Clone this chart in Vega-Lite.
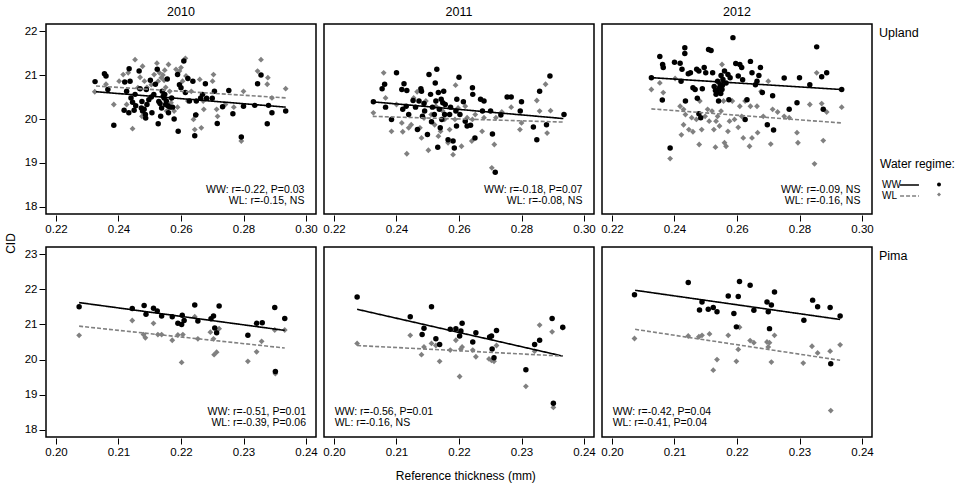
{
"$schema": "https://vega.github.io/schema/vega-lite/v6.json",
"padding": 5,
"title": {"text": "CID", "orient": "left", "anchor": "middle", "fontSize": 12, "fontWeight": "normal", "offset": 6},
"datasets": {
"up": [
{"c":"Upland","yr":"2010","r":"WW","k":"p","x":0.2325,"y":20.85},{"c":"Upland","yr":"2010","r":"WW","k":"p","x":0.2355,"y":21.03},{"c":"Upland","yr":"2010","r":"WW","k":"p","x":0.236,"y":20.98},{"c":"Upland","yr":"2010","r":"WW","k":"p","x":0.2366,"y":20.67},{"c":"Upland","yr":"2010","r":"WW","k":"p","x":0.2385,"y":19.86},{"c":"Upland","yr":"2010","r":"WW","k":"p","x":0.242,"y":20.84},{"c":"Upland","yr":"2010","r":"WW","k":"p","x":0.2418,"y":20.2},{"c":"Upland","yr":"2010","r":"WW","k":"p","x":0.2434,"y":21.14},{"c":"Upland","yr":"2010","r":"WW","k":"p","x":0.2437,"y":20.86},{"c":"Upland","yr":"2010","r":"WW","k":"p","x":0.2433,"y":20.14},{"c":"Upland","yr":"2010","r":"WW","k":"p","x":0.2426,"y":20.63},{"c":"Upland","yr":"2010","r":"WW","k":"p","x":0.244,"y":20.48},{"c":"Upland","yr":"2010","r":"WW","k":"p","x":0.245,"y":20.2},{"c":"Upland","yr":"2010","r":"WW","k":"p","x":0.2453,"y":20.56},{"c":"Upland","yr":"2010","r":"WW","k":"p","x":0.2466,"y":21.09},{"c":"Upland","yr":"2010","r":"WW","k":"p","x":0.2469,"y":20.69},{"c":"Upland","yr":"2010","r":"WW","k":"p","x":0.2475,"y":20.4},{"c":"Upland","yr":"2010","r":"WW","k":"p","x":0.2473,"y":20.25},{"c":"Upland","yr":"2010","r":"WW","k":"p","x":0.2477,"y":20.18},{"c":"Upland","yr":"2010","r":"WW","k":"p","x":0.2486,"y":20.1},{"c":"Upland","yr":"2010","r":"WW","k":"p","x":0.2489,"y":20.67},{"c":"Upland","yr":"2010","r":"WW","k":"p","x":0.2491,"y":20.33},{"c":"Upland","yr":"2010","r":"WW","k":"p","x":0.2497,"y":20.44},{"c":"Upland","yr":"2010","r":"WW","k":"p","x":0.2502,"y":20.88},{"c":"Upland","yr":"2010","r":"WW","k":"p","x":0.2507,"y":20.14},{"c":"Upland","yr":"2010","r":"WW","k":"p","x":0.2513,"y":20.56},{"c":"Upland","yr":"2010","r":"WW","k":"p","x":0.2518,"y":20.79},{"c":"Upland","yr":"2010","r":"WW","k":"p","x":0.2524,"y":21.13},{"c":"Upland","yr":"2010","r":"WW","k":"p","x":0.2527,"y":19.89},{"c":"Upland","yr":"2010","r":"WW","k":"p","x":0.2529,"y":20.4},{"c":"Upland","yr":"2010","r":"WW","k":"p","x":0.2535,"y":20.06},{"c":"Upland","yr":"2010","r":"WW","k":"p","x":0.2538,"y":20.25},{"c":"Upland","yr":"2010","r":"WW","k":"p","x":0.254,"y":20.63},{"c":"Upland","yr":"2010","r":"WW","k":"p","x":0.2546,"y":20.48},{"c":"Upland","yr":"2010","r":"WW","k":"p","x":0.2548,"y":20.56},{"c":"Upland","yr":"2010","r":"WW","k":"p","x":0.2551,"y":20.33},{"c":"Upland","yr":"2010","r":"WW","k":"p","x":0.2553,"y":20.41},{"c":"Upland","yr":"2010","r":"WW","k":"p","x":0.2556,"y":20.91},{"c":"Upland","yr":"2010","r":"WW","k":"p","x":0.256,"y":20.14},{"c":"Upland","yr":"2010","r":"WW","k":"p","x":0.2564,"y":20.27},{"c":"Upland","yr":"2010","r":"WW","k":"p","x":0.257,"y":20.48},{"c":"Upland","yr":"2010","r":"WW","k":"p","x":0.2573,"y":20.27},{"c":"Upland","yr":"2010","r":"WW","k":"p","x":0.2578,"y":20.0},{"c":"Upland","yr":"2010","r":"WW","k":"p","x":0.2589,"y":21.01},{"c":"Upland","yr":"2010","r":"WW","k":"p","x":0.2591,"y":19.72},{"c":"Upland","yr":"2010","r":"WW","k":"p","x":0.2595,"y":20.78},{"c":"Upland","yr":"2010","r":"WW","k":"p","x":0.26,"y":20.71},{"c":"Upland","yr":"2010","r":"WW","k":"p","x":0.2609,"y":21.32},{"c":"Upland","yr":"2010","r":"WW","k":"p","x":0.2614,"y":20.6},{"c":"Upland","yr":"2010","r":"WW","k":"p","x":0.2622,"y":20.92},{"c":"Upland","yr":"2010","r":"WW","k":"p","x":0.2627,"y":20.41},{"c":"Upland","yr":"2010","r":"WW","k":"p","x":0.2638,"y":20.86},{"c":"Upland","yr":"2010","r":"WW","k":"p","x":0.2644,"y":19.62},{"c":"Upland","yr":"2010","r":"WW","k":"p","x":0.2647,"y":20.09},{"c":"Upland","yr":"2010","r":"WW","k":"p","x":0.2649,"y":20.41},{"c":"Upland","yr":"2010","r":"WW","k":"p","x":0.2663,"y":20.48},{"c":"Upland","yr":"2010","r":"WW","k":"p","x":0.2669,"y":20.56},{"c":"Upland","yr":"2010","r":"WW","k":"p","x":0.2678,"y":20.8},{"c":"Upland","yr":"2010","r":"WW","k":"p","x":0.2682,"y":20.47},{"c":"Upland","yr":"2010","r":"WW","k":"p","x":0.27,"y":20.47},{"c":"Upland","yr":"2010","r":"WW","k":"p","x":0.2707,"y":20.63},{"c":"Upland","yr":"2010","r":"WW","k":"p","x":0.2716,"y":19.9},{"c":"Upland","yr":"2010","r":"WW","k":"p","x":0.2733,"y":20.28},{"c":"Upland","yr":"2010","r":"WW","k":"p","x":0.2753,"y":20.65},{"c":"Upland","yr":"2010","r":"WW","k":"p","x":0.2766,"y":20.12},{"c":"Upland","yr":"2010","r":"WW","k":"p","x":0.2793,"y":19.59},{"c":"Upland","yr":"2010","r":"WW","k":"p","x":0.28,"y":20.29},{"c":"Upland","yr":"2010","r":"WW","k":"p","x":0.2836,"y":20.31},{"c":"Upland","yr":"2010","r":"WW","k":"p","x":0.2845,"y":20.8},{"c":"Upland","yr":"2010","r":"WW","k":"p","x":0.2856,"y":21.0},{"c":"Upland","yr":"2010","r":"WW","k":"p","x":0.2876,"y":19.89},{"c":"Upland","yr":"2010","r":"WW","k":"p","x":0.288,"y":20.31},{"c":"Upland","yr":"2010","r":"WW","k":"p","x":0.2891,"y":20.14},{"c":"Upland","yr":"2010","r":"WW","k":"p","x":0.2935,"y":20.18},{"c":"Upland","yr":"2010","r":"WW","k":"p","x":0.2455,"y":20.3},{"c":"Upland","yr":"2010","r":"WW","k":"p","x":0.2482,"y":20.22},{"c":"Upland","yr":"2010","r":"WW","k":"p","x":0.2505,"y":20.5},{"c":"Upland","yr":"2010","r":"WW","k":"p","x":0.2533,"y":20.35},{"c":"Upland","yr":"2010","r":"WW","k":"p","x":0.2543,"y":20.52},{"c":"Upland","yr":"2010","r":"WW","k":"p","x":0.2558,"y":20.3},{"c":"Upland","yr":"2010","r":"WW","k":"p","x":0.2487,"y":20.02},{"c":"Upland","yr":"2010","r":"WW","k":"p","x":0.2445,"y":20.38},
{"c":"Upland","yr":"2010","r":"WL","k":"p","x":0.2324,"y":20.62},{"c":"Upland","yr":"2010","r":"WL","k":"p","x":0.236,"y":20.79},{"c":"Upland","yr":"2010","r":"WL","k":"p","x":0.2385,"y":20.33},{"c":"Upland","yr":"2010","r":"WL","k":"p","x":0.2402,"y":20.86},{"c":"Upland","yr":"2010","r":"WL","k":"p","x":0.2415,"y":21.01},{"c":"Upland","yr":"2010","r":"WL","k":"p","x":0.2426,"y":20.33},{"c":"Upland","yr":"2010","r":"WL","k":"p","x":0.2431,"y":21.05},{"c":"Upland","yr":"2010","r":"WL","k":"p","x":0.2445,"y":19.78},{"c":"Upland","yr":"2010","r":"WL","k":"p","x":0.2453,"y":21.35},{"c":"Upland","yr":"2010","r":"WL","k":"p","x":0.2462,"y":20.71},{"c":"Upland","yr":"2010","r":"WL","k":"p","x":0.2469,"y":20.95},{"c":"Upland","yr":"2010","r":"WL","k":"p","x":0.2477,"y":21.2},{"c":"Upland","yr":"2010","r":"WL","k":"p","x":0.2475,"y":20.06},{"c":"Upland","yr":"2010","r":"WL","k":"p","x":0.2483,"y":20.86},{"c":"Upland","yr":"2010","r":"WL","k":"p","x":0.2491,"y":20.72},{"c":"Upland","yr":"2010","r":"WL","k":"p","x":0.2505,"y":20.78},{"c":"Upland","yr":"2010","r":"WL","k":"p","x":0.2514,"y":21.01},{"c":"Upland","yr":"2010","r":"WL","k":"p","x":0.2523,"y":21.27},{"c":"Upland","yr":"2010","r":"WL","k":"p","x":0.2527,"y":20.86},{"c":"Upland","yr":"2010","r":"WL","k":"p","x":0.2531,"y":21.05},{"c":"Upland","yr":"2010","r":"WL","k":"p","x":0.2537,"y":20.94},{"c":"Upland","yr":"2010","r":"WL","k":"p","x":0.2542,"y":21.0},{"c":"Upland","yr":"2010","r":"WL","k":"p","x":0.2546,"y":20.88},{"c":"Upland","yr":"2010","r":"WL","k":"p","x":0.2548,"y":21.11},{"c":"Upland","yr":"2010","r":"WL","k":"p","x":0.2551,"y":20.72},{"c":"Upland","yr":"2010","r":"WL","k":"p","x":0.2554,"y":20.18},{"c":"Upland","yr":"2010","r":"WL","k":"p","x":0.256,"y":21.24},{"c":"Upland","yr":"2010","r":"WL","k":"p","x":0.2564,"y":20.63},{"c":"Upland","yr":"2010","r":"WL","k":"p","x":0.2568,"y":20.37},{"c":"Upland","yr":"2010","r":"WL","k":"p","x":0.2578,"y":20.18},{"c":"Upland","yr":"2010","r":"WL","k":"p","x":0.2584,"y":21.13},{"c":"Upland","yr":"2010","r":"WL","k":"p","x":0.2589,"y":20.27},{"c":"Upland","yr":"2010","r":"WL","k":"p","x":0.2595,"y":21.09},{"c":"Upland","yr":"2010","r":"WL","k":"p","x":0.26,"y":21.17},{"c":"Upland","yr":"2010","r":"WL","k":"p","x":0.2605,"y":20.86},{"c":"Upland","yr":"2010","r":"WL","k":"p","x":0.2614,"y":21.38},{"c":"Upland","yr":"2010","r":"WL","k":"p","x":0.2616,"y":20.98},{"c":"Upland","yr":"2010","r":"WL","k":"p","x":0.2622,"y":20.41},{"c":"Upland","yr":"2010","r":"WL","k":"p","x":0.2633,"y":20.63},{"c":"Upland","yr":"2010","r":"WL","k":"p","x":0.264,"y":19.99},{"c":"Upland","yr":"2010","r":"WL","k":"p","x":0.2644,"y":19.76},{"c":"Upland","yr":"2010","r":"WL","k":"p","x":0.2649,"y":20.1},{"c":"Upland","yr":"2010","r":"WL","k":"p","x":0.266,"y":20.9},{"c":"Upland","yr":"2010","r":"WL","k":"p","x":0.2665,"y":19.8},{"c":"Upland","yr":"2010","r":"WL","k":"p","x":0.2671,"y":20.41},{"c":"Upland","yr":"2010","r":"WL","k":"p","x":0.2673,"y":20.22},{"c":"Upland","yr":"2010","r":"WL","k":"p","x":0.2704,"y":21.01},{"c":"Upland","yr":"2010","r":"WL","k":"p","x":0.2701,"y":20.86},{"c":"Upland","yr":"2010","r":"WL","k":"p","x":0.2717,"y":20.06},{"c":"Upland","yr":"2010","r":"WL","k":"p","x":0.2714,"y":20.22},{"c":"Upland","yr":"2010","r":"WL","k":"p","x":0.2742,"y":20.33},{"c":"Upland","yr":"2010","r":"WL","k":"p","x":0.2769,"y":20.27},{"c":"Upland","yr":"2010","r":"WL","k":"p","x":0.28,"y":20.63},{"c":"Upland","yr":"2010","r":"WL","k":"p","x":0.2793,"y":19.5},{"c":"Upland","yr":"2010","r":"WL","k":"p","x":0.2845,"y":21.09},{"c":"Upland","yr":"2010","r":"WL","k":"p","x":0.2856,"y":21.35},{"c":"Upland","yr":"2010","r":"WL","k":"p","x":0.2878,"y":20.94},{"c":"Upland","yr":"2010","r":"WL","k":"p","x":0.2876,"y":20.79},{"c":"Upland","yr":"2010","r":"WL","k":"p","x":0.2891,"y":20.48},{"c":"Upland","yr":"2010","r":"WL","k":"p","x":0.2935,"y":20.69},
{"c":"Upland","yr":"2011","r":"WW","k":"p","x":0.2326,"y":20.39},{"c":"Upland","yr":"2011","r":"WW","k":"p","x":0.2354,"y":20.69},{"c":"Upland","yr":"2011","r":"WW","k":"p","x":0.2362,"y":20.79},{"c":"Upland","yr":"2011","r":"WW","k":"p","x":0.2365,"y":20.27},{"c":"Upland","yr":"2011","r":"WW","k":"p","x":0.2384,"y":19.99},{"c":"Upland","yr":"2011","r":"WW","k":"p","x":0.24,"y":21.05},{"c":"Upland","yr":"2011","r":"WW","k":"p","x":0.2417,"y":20.67},{"c":"Upland","yr":"2011","r":"WW","k":"p","x":0.2424,"y":20.8},{"c":"Upland","yr":"2011","r":"WW","k":"p","x":0.2433,"y":20.65},{"c":"Upland","yr":"2011","r":"WW","k":"p","x":0.242,"y":20.22},{"c":"Upland","yr":"2011","r":"WW","k":"p","x":0.2431,"y":20.29},{"c":"Upland","yr":"2011","r":"WW","k":"p","x":0.2439,"y":20.1},{"c":"Upland","yr":"2011","r":"WW","k":"p","x":0.2453,"y":20.42},{"c":"Upland","yr":"2011","r":"WW","k":"p","x":0.2461,"y":20.27},{"c":"Upland","yr":"2011","r":"WW","k":"p","x":0.2467,"y":19.76},{"c":"Upland","yr":"2011","r":"WW","k":"p","x":0.2472,"y":20.41},{"c":"Upland","yr":"2011","r":"WW","k":"p","x":0.2478,"y":20.69},{"c":"Upland","yr":"2011","r":"WW","k":"p","x":0.248,"y":20.63},{"c":"Upland","yr":"2011","r":"WW","k":"p","x":0.2483,"y":20.06},{"c":"Upland","yr":"2011","r":"WW","k":"p","x":0.2488,"y":20.35},{"c":"Upland","yr":"2011","r":"WW","k":"p","x":0.249,"y":20.18},{"c":"Upland","yr":"2011","r":"WW","k":"p","x":0.2499,"y":19.65},{"c":"Upland","yr":"2011","r":"WW","k":"p","x":0.2504,"y":21.01},{"c":"Upland","yr":"2011","r":"WW","k":"p","x":0.2509,"y":20.56},{"c":"Upland","yr":"2011","r":"WW","k":"p","x":0.2512,"y":19.94},{"c":"Upland","yr":"2011","r":"WW","k":"p","x":0.2515,"y":20.27},{"c":"Upland","yr":"2011","r":"WW","k":"p","x":0.2521,"y":20.1},{"c":"Upland","yr":"2011","r":"WW","k":"p","x":0.2524,"y":20.82},{"c":"Upland","yr":"2011","r":"WW","k":"p","x":0.2526,"y":20.41},{"c":"Upland","yr":"2011","r":"WW","k":"p","x":0.2529,"y":21.13},{"c":"Upland","yr":"2011","r":"WW","k":"p","x":0.2532,"y":19.36},{"c":"Upland","yr":"2011","r":"WW","k":"p","x":0.2534,"y":20.6},{"c":"Upland","yr":"2011","r":"WW","k":"p","x":0.2537,"y":20.22},{"c":"Upland","yr":"2011","r":"WW","k":"p","x":0.254,"y":19.8},{"c":"Upland","yr":"2011","r":"WW","k":"p","x":0.2543,"y":20.45},{"c":"Upland","yr":"2011","r":"WW","k":"p","x":0.2545,"y":19.99},{"c":"Upland","yr":"2011","r":"WW","k":"p","x":0.2548,"y":20.37},{"c":"Upland","yr":"2011","r":"WW","k":"p","x":0.2551,"y":20.63},{"c":"Upland","yr":"2011","r":"WW","k":"p","x":0.2554,"y":20.1},{"c":"Upland","yr":"2011","r":"WW","k":"p","x":0.2556,"y":20.33},{"c":"Upland","yr":"2011","r":"WW","k":"p","x":0.2565,"y":19.53},{"c":"Upland","yr":"2011","r":"WW","k":"p","x":0.257,"y":20.1},{"c":"Upland","yr":"2011","r":"WW","k":"p","x":0.2573,"y":20.27},{"c":"Upland","yr":"2011","r":"WW","k":"p","x":0.2581,"y":19.5},{"c":"Upland","yr":"2011","r":"WW","k":"p","x":0.2585,"y":19.34},{"c":"Upland","yr":"2011","r":"WW","k":"p","x":0.259,"y":20.18},{"c":"Upland","yr":"2011","r":"WW","k":"p","x":0.2592,"y":19.84},{"c":"Upland","yr":"2011","r":"WW","k":"p","x":0.2593,"y":20.45},{"c":"Upland","yr":"2011","r":"WW","k":"p","x":0.26,"y":20.95},{"c":"Upland","yr":"2011","r":"WW","k":"p","x":0.2603,"y":20.1},{"c":"Upland","yr":"2011","r":"WW","k":"p","x":0.2614,"y":20.39},{"c":"Upland","yr":"2011","r":"WW","k":"p","x":0.262,"y":19.95},{"c":"Upland","yr":"2011","r":"WW","k":"p","x":0.2626,"y":19.84},{"c":"Upland","yr":"2011","r":"WW","k":"p","x":0.2637,"y":19.86},{"c":"Upland","yr":"2011","r":"WW","k":"p","x":0.2643,"y":20.71},{"c":"Upland","yr":"2011","r":"WW","k":"p","x":0.2644,"y":20.56},{"c":"Upland","yr":"2011","r":"WW","k":"p","x":0.2651,"y":19.57},{"c":"Upland","yr":"2011","r":"WW","k":"p","x":0.2669,"y":20.45},{"c":"Upland","yr":"2011","r":"WW","k":"p","x":0.268,"y":20.41},{"c":"Upland","yr":"2011","r":"WW","k":"p","x":0.2675,"y":20.18},{"c":"Upland","yr":"2011","r":"WW","k":"p","x":0.2701,"y":20.18},{"c":"Upland","yr":"2011","r":"WW","k":"p","x":0.2707,"y":19.66},{"c":"Upland","yr":"2011","r":"WW","k":"p","x":0.2716,"y":18.79},{"c":"Upland","yr":"2011","r":"WW","k":"p","x":0.2734,"y":20.09},{"c":"Upland","yr":"2011","r":"WW","k":"p","x":0.2754,"y":20.5},{"c":"Upland","yr":"2011","r":"WW","k":"p","x":0.2767,"y":20.5},{"c":"Upland","yr":"2011","r":"WW","k":"p","x":0.2796,"y":20.18},{"c":"Upland","yr":"2011","r":"WW","k":"p","x":0.28,"y":20.39},{"c":"Upland","yr":"2011","r":"WW","k":"p","x":0.2838,"y":19.82},{"c":"Upland","yr":"2011","r":"WW","k":"p","x":0.2849,"y":19.53},{"c":"Upland","yr":"2011","r":"WW","k":"p","x":0.2858,"y":20.63},{"c":"Upland","yr":"2011","r":"WW","k":"p","x":0.288,"y":19.87},{"c":"Upland","yr":"2011","r":"WW","k":"p","x":0.2891,"y":20.98},{"c":"Upland","yr":"2011","r":"WW","k":"p","x":0.2936,"y":20.1},
{"c":"Upland","yr":"2011","r":"WL","k":"p","x":0.2326,"y":20.14},{"c":"Upland","yr":"2011","r":"WL","k":"p","x":0.2359,"y":21.05},{"c":"Upland","yr":"2011","r":"WL","k":"p","x":0.2365,"y":20.48},{"c":"Upland","yr":"2011","r":"WL","k":"p","x":0.2384,"y":19.72},{"c":"Upland","yr":"2011","r":"WL","k":"p","x":0.24,"y":20.33},{"c":"Upland","yr":"2011","r":"WL","k":"p","x":0.2417,"y":19.91},{"c":"Upland","yr":"2011","r":"WL","k":"p","x":0.242,"y":19.71},{"c":"Upland","yr":"2011","r":"WL","k":"p","x":0.2433,"y":19.21},{"c":"Upland","yr":"2011","r":"WL","k":"p","x":0.2439,"y":19.8},{"c":"Upland","yr":"2011","r":"WL","k":"p","x":0.2447,"y":19.87},{"c":"Upland","yr":"2011","r":"WL","k":"p","x":0.2455,"y":20.48},{"c":"Upland","yr":"2011","r":"WL","k":"p","x":0.2466,"y":20.62},{"c":"Upland","yr":"2011","r":"WL","k":"p","x":0.2475,"y":19.8},{"c":"Upland","yr":"2011","r":"WL","k":"p","x":0.248,"y":19.57},{"c":"Upland","yr":"2011","r":"WL","k":"p","x":0.2488,"y":20.02},{"c":"Upland","yr":"2011","r":"WL","k":"p","x":0.2494,"y":20.41},{"c":"Upland","yr":"2011","r":"WL","k":"p","x":0.2502,"y":19.29},{"c":"Upland","yr":"2011","r":"WL","k":"p","x":0.2511,"y":20.1},{"c":"Upland","yr":"2011","r":"WL","k":"p","x":0.2522,"y":19.87},{"c":"Upland","yr":"2011","r":"WL","k":"p","x":0.2526,"y":20.29},{"c":"Upland","yr":"2011","r":"WL","k":"p","x":0.2534,"y":19.61},{"c":"Upland","yr":"2011","r":"WL","k":"p","x":0.2541,"y":19.72},{"c":"Upland","yr":"2011","r":"WL","k":"p","x":0.2548,"y":20.18},{"c":"Upland","yr":"2011","r":"WL","k":"p","x":0.2554,"y":19.99},{"c":"Upland","yr":"2011","r":"WL","k":"p","x":0.2565,"y":19.46},{"c":"Upland","yr":"2011","r":"WL","k":"p","x":0.257,"y":19.76},{"c":"Upland","yr":"2011","r":"WL","k":"p","x":0.2581,"y":19.19},{"c":"Upland","yr":"2011","r":"WL","k":"p","x":0.2587,"y":19.99},{"c":"Upland","yr":"2011","r":"WL","k":"p","x":0.2589,"y":20.77},{"c":"Upland","yr":"2011","r":"WL","k":"p","x":0.2597,"y":20.25},{"c":"Upland","yr":"2011","r":"WL","k":"p","x":0.2608,"y":19.38},{"c":"Upland","yr":"2011","r":"WL","k":"p","x":0.262,"y":20.29},{"c":"Upland","yr":"2011","r":"WL","k":"p","x":0.2626,"y":20.03},{"c":"Upland","yr":"2011","r":"WL","k":"p","x":0.2641,"y":19.5},{"c":"Upland","yr":"2011","r":"WL","k":"p","x":0.2643,"y":19.99},{"c":"Upland","yr":"2011","r":"WL","k":"p","x":0.2652,"y":20.1},{"c":"Upland","yr":"2011","r":"WL","k":"p","x":0.2674,"y":19.72},{"c":"Upland","yr":"2011","r":"WL","k":"p","x":0.268,"y":20.03},{"c":"Upland","yr":"2011","r":"WL","k":"p","x":0.2705,"y":18.89},{"c":"Upland","yr":"2011","r":"WL","k":"p","x":0.2713,"y":19.42},{"c":"Upland","yr":"2011","r":"WL","k":"p","x":0.2718,"y":20.03},{"c":"Upland","yr":"2011","r":"WL","k":"p","x":0.2737,"y":20.16},{"c":"Upland","yr":"2011","r":"WL","k":"p","x":0.2767,"y":20.27},{"c":"Upland","yr":"2011","r":"WL","k":"p","x":0.2795,"y":19.76},{"c":"Upland","yr":"2011","r":"WL","k":"p","x":0.28,"y":19.91},{"c":"Upland","yr":"2011","r":"WL","k":"p","x":0.2849,"y":20.42},{"c":"Upland","yr":"2011","r":"WL","k":"p","x":0.2858,"y":20.18},{"c":"Upland","yr":"2011","r":"WL","k":"p","x":0.2877,"y":20.79},{"c":"Upland","yr":"2011","r":"WL","k":"p","x":0.2882,"y":19.68},{"c":"Upland","yr":"2011","r":"WL","k":"p","x":0.2893,"y":20.19},
{"c":"Upland","yr":"2012","r":"WW","k":"p","x":0.2326,"y":20.94},{"c":"Upland","yr":"2012","r":"WW","k":"p","x":0.2353,"y":21.42},{"c":"Upland","yr":"2012","r":"WW","k":"p","x":0.2362,"y":21.24},{"c":"Upland","yr":"2012","r":"WW","k":"p","x":0.2364,"y":21.17},{"c":"Upland","yr":"2012","r":"WW","k":"p","x":0.2361,"y":20.43},{"c":"Upland","yr":"2012","r":"WW","k":"p","x":0.2386,"y":19.34},{"c":"Upland","yr":"2012","r":"WW","k":"p","x":0.24,"y":21.29},{"c":"Upland","yr":"2012","r":"WW","k":"p","x":0.2418,"y":21.27},{"c":"Upland","yr":"2012","r":"WW","k":"p","x":0.2424,"y":21.13},{"c":"Upland","yr":"2012","r":"WW","k":"p","x":0.2421,"y":20.86},{"c":"Upland","yr":"2012","r":"WW","k":"p","x":0.2433,"y":21.62},{"c":"Upland","yr":"2012","r":"WW","k":"p","x":0.2433,"y":21.49},{"c":"Upland","yr":"2012","r":"WW","k":"p","x":0.2435,"y":20.41},{"c":"Upland","yr":"2012","r":"WW","k":"p","x":0.2444,"y":21.03},{"c":"Upland","yr":"2012","r":"WW","k":"p","x":0.2451,"y":21.05},{"c":"Upland","yr":"2012","r":"WW","k":"p","x":0.2459,"y":20.71},{"c":"Upland","yr":"2012","r":"WW","k":"p","x":0.2466,"y":20.67},{"c":"Upland","yr":"2012","r":"WW","k":"p","x":0.2471,"y":21.13},{"c":"Upland","yr":"2012","r":"WW","k":"p","x":0.2473,"y":20.47},{"c":"Upland","yr":"2012","r":"WW","k":"p","x":0.2478,"y":21.09},{"c":"Upland","yr":"2012","r":"WW","k":"p","x":0.2478,"y":20.12},{"c":"Upland","yr":"2012","r":"WW","k":"p","x":0.2484,"y":20.03},{"c":"Upland","yr":"2012","r":"WW","k":"p","x":0.2489,"y":20.69},{"c":"Upland","yr":"2012","r":"WW","k":"p","x":0.2495,"y":21.17},{"c":"Upland","yr":"2012","r":"WW","k":"p","x":0.25,"y":21.05},{"c":"Upland","yr":"2012","r":"WW","k":"p","x":0.2509,"y":21.58},{"c":"Upland","yr":"2012","r":"WW","k":"p","x":0.2517,"y":21.56},{"c":"Upland","yr":"2012","r":"WW","k":"p","x":0.2522,"y":21.05},{"c":"Upland","yr":"2012","r":"WW","k":"p","x":0.2527,"y":20.74},{"c":"Upland","yr":"2012","r":"WW","k":"p","x":0.2531,"y":20.65},{"c":"Upland","yr":"2012","r":"WW","k":"p","x":0.2533,"y":20.56},{"c":"Upland","yr":"2012","r":"WW","k":"p","x":0.2538,"y":20.86},{"c":"Upland","yr":"2012","r":"WW","k":"p","x":0.2541,"y":20.41},{"c":"Upland","yr":"2012","r":"WW","k":"p","x":0.2546,"y":20.78},{"c":"Upland","yr":"2012","r":"WW","k":"p","x":0.2549,"y":20.99},{"c":"Upland","yr":"2012","r":"WW","k":"p","x":0.2552,"y":20.67},{"c":"Upland","yr":"2012","r":"WW","k":"p","x":0.2555,"y":20.9},{"c":"Upland","yr":"2012","r":"WW","k":"p","x":0.256,"y":21.09},{"c":"Upland","yr":"2012","r":"WW","k":"p","x":0.2565,"y":20.82},{"c":"Upland","yr":"2012","r":"WW","k":"p","x":0.2571,"y":21.01},{"c":"Upland","yr":"2012","r":"WW","k":"p","x":0.2574,"y":20.44},{"c":"Upland","yr":"2012","r":"WW","k":"p","x":0.2578,"y":20.94},{"c":"Upland","yr":"2012","r":"WW","k":"p","x":0.2587,"y":21.85},{"c":"Upland","yr":"2012","r":"WW","k":"p","x":0.2596,"y":21.26},{"c":"Upland","yr":"2012","r":"WW","k":"p","x":0.2604,"y":20.98},{"c":"Upland","yr":"2012","r":"WW","k":"p","x":0.2609,"y":21.24},{"c":"Upland","yr":"2012","r":"WW","k":"p","x":0.2618,"y":20.89},{"c":"Upland","yr":"2012","r":"WW","k":"p","x":0.2615,"y":21.17},{"c":"Upland","yr":"2012","r":"WW","k":"p","x":0.2626,"y":19.99},{"c":"Upland","yr":"2012","r":"WW","k":"p","x":0.2632,"y":20.44},{"c":"Upland","yr":"2012","r":"WW","k":"p","x":0.2643,"y":21.31},{"c":"Upland","yr":"2012","r":"WW","k":"p","x":0.2648,"y":21.05},{"c":"Upland","yr":"2012","r":"WW","k":"p","x":0.2659,"y":20.78},{"c":"Upland","yr":"2012","r":"WW","k":"p","x":0.2664,"y":20.86},{"c":"Upland","yr":"2012","r":"WW","k":"p","x":0.267,"y":20.99},{"c":"Upland","yr":"2012","r":"WW","k":"p","x":0.2675,"y":21.17},{"c":"Upland","yr":"2012","r":"WW","k":"p","x":0.2681,"y":20.6},{"c":"Upland","yr":"2012","r":"WW","k":"p","x":0.2697,"y":19.87},{"c":"Upland","yr":"2012","r":"WW","k":"p","x":0.2714,"y":20.53},{"c":"Upland","yr":"2012","r":"WW","k":"p","x":0.2717,"y":19.75},{"c":"Upland","yr":"2012","r":"WW","k":"p","x":0.2751,"y":20.93},{"c":"Upland","yr":"2012","r":"WW","k":"p","x":0.2767,"y":20.22},{"c":"Upland","yr":"2012","r":"WW","k":"p","x":0.2792,"y":20.37},{"c":"Upland","yr":"2012","r":"WW","k":"p","x":0.28,"y":20.94},{"c":"Upland","yr":"2012","r":"WW","k":"p","x":0.2833,"y":20.78},{"c":"Upland","yr":"2012","r":"WW","k":"p","x":0.2855,"y":21.64},{"c":"Upland","yr":"2012","r":"WW","k":"p","x":0.2871,"y":20.96},{"c":"Upland","yr":"2012","r":"WW","k":"p","x":0.2876,"y":20.22},{"c":"Upland","yr":"2012","r":"WW","k":"p","x":0.2887,"y":21.05},{"c":"Upland","yr":"2012","r":"WW","k":"p","x":0.2935,"y":20.67},{"c":"Upland","yr":"2012","r":"WW","k":"p","x":0.2536,"y":20.62},{"c":"Upland","yr":"2012","r":"WW","k":"p","x":0.2543,"y":20.7},{"c":"Upland","yr":"2012","r":"WW","k":"p","x":0.2548,"y":20.58},{"c":"Upland","yr":"2012","r":"WW","k":"p","x":0.2553,"y":20.76},
{"c":"Upland","yr":"2012","r":"WL","k":"p","x":0.2326,"y":20.67},{"c":"Upland","yr":"2012","r":"WL","k":"p","x":0.2353,"y":20.82},{"c":"Upland","yr":"2012","r":"WL","k":"p","x":0.2364,"y":20.6},{"c":"Upland","yr":"2012","r":"WL","k":"p","x":0.2386,"y":19.1},{"c":"Upland","yr":"2012","r":"WL","k":"p","x":0.2402,"y":20.92},{"c":"Upland","yr":"2012","r":"WL","k":"p","x":0.2418,"y":20.29},{"c":"Upland","yr":"2012","r":"WL","k":"p","x":0.2422,"y":19.64},{"c":"Upland","yr":"2012","r":"WL","k":"p","x":0.2429,"y":19.87},{"c":"Upland","yr":"2012","r":"WL","k":"p","x":0.2429,"y":20.22},{"c":"Upland","yr":"2012","r":"WL","k":"p","x":0.2435,"y":20.1},{"c":"Upland","yr":"2012","r":"WL","k":"p","x":0.2446,"y":19.76},{"c":"Upland","yr":"2012","r":"WL","k":"p","x":0.2455,"y":20.03},{"c":"Upland","yr":"2012","r":"WL","k":"p","x":0.2459,"y":19.71},{"c":"Upland","yr":"2012","r":"WL","k":"p","x":0.247,"y":19.99},{"c":"Upland","yr":"2012","r":"WL","k":"p","x":0.2479,"y":19.42},{"c":"Upland","yr":"2012","r":"WL","k":"p","x":0.2481,"y":20.41},{"c":"Upland","yr":"2012","r":"WL","k":"p","x":0.2487,"y":19.76},{"c":"Upland","yr":"2012","r":"WL","k":"p","x":0.2498,"y":20.06},{"c":"Upland","yr":"2012","r":"WL","k":"p","x":0.2506,"y":20.22},{"c":"Upland","yr":"2012","r":"WL","k":"p","x":0.2511,"y":19.95},{"c":"Upland","yr":"2012","r":"WL","k":"p","x":0.252,"y":20.18},{"c":"Upland","yr":"2012","r":"WL","k":"p","x":0.2526,"y":19.76},{"c":"Upland","yr":"2012","r":"WL","k":"p","x":0.2531,"y":19.36},{"c":"Upland","yr":"2012","r":"WL","k":"p","x":0.2533,"y":19.95},{"c":"Upland","yr":"2012","r":"WL","k":"p","x":0.2538,"y":20.06},{"c":"Upland","yr":"2012","r":"WL","k":"p","x":0.2544,"y":19.84},{"c":"Upland","yr":"2012","r":"WL","k":"p","x":0.2549,"y":20.18},{"c":"Upland","yr":"2012","r":"WL","k":"p","x":0.2552,"y":21.24},{"c":"Upland","yr":"2012","r":"WL","k":"p","x":0.2557,"y":20.41},{"c":"Upland","yr":"2012","r":"WL","k":"p","x":0.256,"y":19.46},{"c":"Upland","yr":"2012","r":"WL","k":"p","x":0.2565,"y":19.38},{"c":"Upland","yr":"2012","r":"WL","k":"p","x":0.2571,"y":19.72},{"c":"Upland","yr":"2012","r":"WL","k":"p","x":0.2576,"y":19.95},{"c":"Upland","yr":"2012","r":"WL","k":"p","x":0.2585,"y":20.41},{"c":"Upland","yr":"2012","r":"WL","k":"p","x":0.2592,"y":19.99},{"c":"Upland","yr":"2012","r":"WL","k":"p","x":0.2604,"y":19.81},{"c":"Upland","yr":"2012","r":"WL","k":"p","x":0.2609,"y":20.29},{"c":"Upland","yr":"2012","r":"WL","k":"p","x":0.2615,"y":20.06},{"c":"Upland","yr":"2012","r":"WL","k":"p","x":0.262,"y":19.57},{"c":"Upland","yr":"2012","r":"WL","k":"p","x":0.2626,"y":20.41},{"c":"Upland","yr":"2012","r":"WL","k":"p","x":0.264,"y":19.38},{"c":"Upland","yr":"2012","r":"WL","k":"p","x":0.2643,"y":20.29},{"c":"Upland","yr":"2012","r":"WL","k":"p","x":0.2648,"y":19.57},{"c":"Upland","yr":"2012","r":"WL","k":"p","x":0.2664,"y":20.29},{"c":"Upland","yr":"2012","r":"WL","k":"p","x":0.2666,"y":19.69},{"c":"Upland","yr":"2012","r":"WL","k":"p","x":0.2677,"y":20.63},{"c":"Upland","yr":"2012","r":"WL","k":"p","x":0.2684,"y":20.06},{"c":"Upland","yr":"2012","r":"WL","k":"p","x":0.27,"y":20.86},{"c":"Upland","yr":"2012","r":"WL","k":"p","x":0.2708,"y":19.43},{"c":"Upland","yr":"2012","r":"WL","k":"p","x":0.2714,"y":20.22},{"c":"Upland","yr":"2012","r":"WL","k":"p","x":0.273,"y":20.16},{"c":"Upland","yr":"2012","r":"WL","k":"p","x":0.2751,"y":20.06},{"c":"Upland","yr":"2012","r":"WL","k":"p","x":0.2767,"y":20.03},{"c":"Upland","yr":"2012","r":"WL","k":"p","x":0.2792,"y":19.69},{"c":"Upland","yr":"2012","r":"WL","k":"p","x":0.2795,"y":19.46},{"c":"Upland","yr":"2012","r":"WL","k":"p","x":0.2833,"y":20.33},{"c":"Upland","yr":"2012","r":"WL","k":"p","x":0.2848,"y":18.98},{"c":"Upland","yr":"2012","r":"WL","k":"p","x":0.2855,"y":21.05},{"c":"Upland","yr":"2012","r":"WL","k":"p","x":0.2871,"y":20.35},{"c":"Upland","yr":"2012","r":"WL","k":"p","x":0.2876,"y":19.51},{"c":"Upland","yr":"2012","r":"WL","k":"p","x":0.2887,"y":20.16},{"c":"Upland","yr":"2012","r":"WL","k":"p","x":0.2935,"y":20.27},
{"c":"Upland","yr":"2010","r":"WW","k":"f","x":0.2328,"y":20.62},{"c":"Upland","yr":"2010","r":"WW","k":"f","x":0.2935,"y":20.27},{"c":"Upland","yr":"2010","r":"WL","k":"f","x":0.2328,"y":20.75},{"c":"Upland","yr":"2010","r":"WL","k":"f","x":0.2935,"y":20.48},
{"c":"Upland","yr":"2011","r":"WW","k":"f","x":0.2324,"y":20.39},{"c":"Upland","yr":"2011","r":"WW","k":"f","x":0.2934,"y":20.01},{"c":"Upland","yr":"2011","r":"WL","k":"f","x":0.2324,"y":20.06},{"c":"Upland","yr":"2011","r":"WL","k":"f","x":0.2934,"y":19.93},
{"c":"Upland","yr":"2012","r":"WW","k":"f","x":0.2326,"y":20.94},{"c":"Upland","yr":"2012","r":"WW","k":"f","x":0.2935,"y":20.67},{"c":"Upland","yr":"2012","r":"WL","k":"f","x":0.2326,"y":20.23},{"c":"Upland","yr":"2012","r":"WL","k":"f","x":0.2935,"y":19.91},
{"c":"Upland","yr":"2010","r":"WW","k":"n","t":"WW: r=-0.22, P=0.03"},{"c":"Upland","yr":"2010","r":"WL","k":"n","t":"WL: r=-0.15, NS"},
{"c":"Upland","yr":"2011","r":"WW","k":"n","t":"WW: r=-0.18, P=0.07"},{"c":"Upland","yr":"2011","r":"WL","k":"n","t":"WL: r=-0.08, NS"},
{"c":"Upland","yr":"2012","r":"WW","k":"n","t":"WW: r=-0.09, NS"},{"c":"Upland","yr":"2012","r":"WL","k":"n","t":"WL: r=-0.16, NS"}
],
"pi": [
{"c":"Pima","yr":"2010","r":"WW","k":"p","x":0.2037,"y":21.5},{"c":"Pima","yr":"2010","r":"WW","k":"p","x":0.2122,"y":21.45},{"c":"Pima","yr":"2010","r":"WW","k":"p","x":0.2141,"y":21.54},{"c":"Pima","yr":"2010","r":"WW","k":"p","x":0.2144,"y":21.29},{"c":"Pima","yr":"2010","r":"WW","k":"p","x":0.2156,"y":21.46},{"c":"Pima","yr":"2010","r":"WW","k":"p","x":0.2162,"y":21.38},{"c":"Pima","yr":"2010","r":"WW","k":"p","x":0.2169,"y":21.24},{"c":"Pima","yr":"2010","r":"WW","k":"p","x":0.2186,"y":21.22},{"c":"Pima","yr":"2010","r":"WW","k":"p","x":0.2195,"y":21.03},{"c":"Pima","yr":"2010","r":"WW","k":"p","x":0.2201,"y":21.0},{"c":"Pima","yr":"2010","r":"WW","k":"p","x":0.2202,"y":21.26},{"c":"Pima","yr":"2010","r":"WW","k":"p","x":0.2205,"y":21.11},{"c":"Pima","yr":"2010","r":"WW","k":"p","x":0.2222,"y":21.55},{"c":"Pima","yr":"2010","r":"WW","k":"p","x":0.2227,"y":21.1},{"c":"Pima","yr":"2010","r":"WW","k":"p","x":0.2248,"y":21.16},{"c":"Pima","yr":"2010","r":"WW","k":"p","x":0.2252,"y":21.24},{"c":"Pima","yr":"2010","r":"WW","k":"p","x":0.2254,"y":20.9},{"c":"Pima","yr":"2010","r":"WW","k":"p","x":0.2257,"y":20.76},{"c":"Pima","yr":"2010","r":"WW","k":"p","x":0.2261,"y":21.52},{"c":"Pima","yr":"2010","r":"WW","k":"p","x":0.2307,"y":20.69},{"c":"Pima","yr":"2010","r":"WW","k":"p","x":0.2321,"y":21.03},{"c":"Pima","yr":"2010","r":"WW","k":"p","x":0.233,"y":21.05},{"c":"Pima","yr":"2010","r":"WW","k":"p","x":0.235,"y":21.48},{"c":"Pima","yr":"2010","r":"WW","k":"p","x":0.2351,"y":19.66},{"c":"Pima","yr":"2010","r":"WW","k":"p","x":0.2366,"y":21.17},
{"c":"Pima","yr":"2010","r":"WL","k":"p","x":0.2037,"y":20.69},{"c":"Pima","yr":"2010","r":"WL","k":"p","x":0.2122,"y":21.11},{"c":"Pima","yr":"2010","r":"WL","k":"p","x":0.214,"y":20.71},{"c":"Pima","yr":"2010","r":"WL","k":"p","x":0.2143,"y":20.62},{"c":"Pima","yr":"2010","r":"WL","k":"p","x":0.2156,"y":21.03},{"c":"Pima","yr":"2010","r":"WL","k":"p","x":0.2163,"y":20.71},{"c":"Pima","yr":"2010","r":"WL","k":"p","x":0.2169,"y":20.71},{"c":"Pima","yr":"2010","r":"WL","k":"p","x":0.2186,"y":20.55},{"c":"Pima","yr":"2010","r":"WL","k":"p","x":0.2195,"y":20.7},{"c":"Pima","yr":"2010","r":"WL","k":"p","x":0.2201,"y":19.92},{"c":"Pima","yr":"2010","r":"WL","k":"p","x":0.2203,"y":20.71},{"c":"Pima","yr":"2010","r":"WL","k":"p","x":0.2222,"y":21.22},{"c":"Pima","yr":"2010","r":"WL","k":"p","x":0.2227,"y":20.59},{"c":"Pima","yr":"2010","r":"WL","k":"p","x":0.2247,"y":20.78},{"c":"Pima","yr":"2010","r":"WL","k":"p","x":0.2252,"y":20.59},{"c":"Pima","yr":"2010","r":"WL","k":"p","x":0.2253,"y":20.14},{"c":"Pima","yr":"2010","r":"WL","k":"p","x":0.2257,"y":20.21},{"c":"Pima","yr":"2010","r":"WL","k":"p","x":0.2261,"y":20.88},{"c":"Pima","yr":"2010","r":"WL","k":"p","x":0.2307,"y":19.95},{"c":"Pima","yr":"2010","r":"WL","k":"p","x":0.2321,"y":20.22},{"c":"Pima","yr":"2010","r":"WL","k":"p","x":0.2329,"y":20.52},{"c":"Pima","yr":"2010","r":"WL","k":"p","x":0.235,"y":20.84},{"c":"Pima","yr":"2010","r":"WL","k":"p","x":0.2351,"y":19.6},{"c":"Pima","yr":"2010","r":"WL","k":"p","x":0.2366,"y":20.84},
{"c":"Pima","yr":"2011","r":"WW","k":"p","x":0.2037,"y":21.78},{"c":"Pima","yr":"2011","r":"WW","k":"p","x":0.2122,"y":21.22},{"c":"Pima","yr":"2011","r":"WW","k":"p","x":0.2141,"y":20.71},{"c":"Pima","yr":"2011","r":"WW","k":"p","x":0.2144,"y":20.89},{"c":"Pima","yr":"2011","r":"WW","k":"p","x":0.2156,"y":21.5},{"c":"Pima","yr":"2011","r":"WW","k":"p","x":0.2163,"y":20.59},{"c":"Pima","yr":"2011","r":"WW","k":"p","x":0.2169,"y":20.43},{"c":"Pima","yr":"2011","r":"WW","k":"p","x":0.2186,"y":20.86},{"c":"Pima","yr":"2011","r":"WW","k":"p","x":0.2195,"y":20.88},{"c":"Pima","yr":"2011","r":"WW","k":"p","x":0.2201,"y":20.67},{"c":"Pima","yr":"2011","r":"WW","k":"p","x":0.2203,"y":20.81},{"c":"Pima","yr":"2011","r":"WW","k":"p","x":0.2205,"y":21.03},{"c":"Pima","yr":"2011","r":"WW","k":"p","x":0.2222,"y":20.5},{"c":"Pima","yr":"2011","r":"WW","k":"p","x":0.2227,"y":20.76},{"c":"Pima","yr":"2011","r":"WW","k":"p","x":0.2249,"y":20.64},{"c":"Pima","yr":"2011","r":"WW","k":"p","x":0.2252,"y":20.67},{"c":"Pima","yr":"2011","r":"WW","k":"p","x":0.2253,"y":20.3},{"c":"Pima","yr":"2011","r":"WW","k":"p","x":0.2256,"y":20.05},{"c":"Pima","yr":"2011","r":"WW","k":"p","x":0.226,"y":20.83},{"c":"Pima","yr":"2011","r":"WW","k":"p","x":0.2307,"y":19.71},{"c":"Pima","yr":"2011","r":"WW","k":"p","x":0.2321,"y":20.43},{"c":"Pima","yr":"2011","r":"WW","k":"p","x":0.2329,"y":20.55},{"c":"Pima","yr":"2011","r":"WW","k":"p","x":0.2349,"y":21.17},{"c":"Pima","yr":"2011","r":"WW","k":"p","x":0.2351,"y":18.76},{"c":"Pima","yr":"2011","r":"WW","k":"p","x":0.2366,"y":20.92},
{"c":"Pima","yr":"2011","r":"WL","k":"p","x":0.2037,"y":20.46},{"c":"Pima","yr":"2011","r":"WL","k":"p","x":0.2122,"y":20.69},{"c":"Pima","yr":"2011","r":"WL","k":"p","x":0.214,"y":20.14},{"c":"Pima","yr":"2011","r":"WL","k":"p","x":0.2144,"y":20.36},{"c":"Pima","yr":"2011","r":"WL","k":"p","x":0.2156,"y":20.46},{"c":"Pima","yr":"2011","r":"WL","k":"p","x":0.2163,"y":20.4},{"c":"Pima","yr":"2011","r":"WL","k":"p","x":0.2169,"y":19.95},{"c":"Pima","yr":"2011","r":"WL","k":"p","x":0.2186,"y":20.27},{"c":"Pima","yr":"2011","r":"WL","k":"p","x":0.2195,"y":20.55},{"c":"Pima","yr":"2011","r":"WL","k":"p","x":0.2201,"y":19.52},{"c":"Pima","yr":"2011","r":"WL","k":"p","x":0.2203,"y":20.3},{"c":"Pima","yr":"2011","r":"WL","k":"p","x":0.2205,"y":20.36},{"c":"Pima","yr":"2011","r":"WL","k":"p","x":0.2222,"y":20.27},{"c":"Pima","yr":"2011","r":"WL","k":"p","x":0.2227,"y":20.08},{"c":"Pima","yr":"2011","r":"WL","k":"p","x":0.2248,"y":20.02},{"c":"Pima","yr":"2011","r":"WL","k":"p","x":0.2252,"y":19.98},{"c":"Pima","yr":"2011","r":"WL","k":"p","x":0.2256,"y":19.95},{"c":"Pima","yr":"2011","r":"WL","k":"p","x":0.226,"y":20.4},{"c":"Pima","yr":"2011","r":"WL","k":"p","x":0.2307,"y":19.24},{"c":"Pima","yr":"2011","r":"WL","k":"p","x":0.2321,"y":20.24},{"c":"Pima","yr":"2011","r":"WL","k":"p","x":0.2329,"y":20.98},{"c":"Pima","yr":"2011","r":"WL","k":"p","x":0.2349,"y":20.79},{"c":"Pima","yr":"2011","r":"WL","k":"p","x":0.2351,"y":18.64},{"c":"Pima","yr":"2011","r":"WL","k":"p","x":0.2366,"y":20.9},
{"c":"Pima","yr":"2012","r":"WW","k":"p","x":0.2036,"y":21.84},{"c":"Pima","yr":"2012","r":"WW","k":"p","x":0.2122,"y":22.19},{"c":"Pima","yr":"2012","r":"WW","k":"p","x":0.214,"y":21.41},{"c":"Pima","yr":"2012","r":"WW","k":"p","x":0.2144,"y":21.64},{"c":"Pima","yr":"2012","r":"WW","k":"p","x":0.2154,"y":21.43},{"c":"Pima","yr":"2012","r":"WW","k":"p","x":0.2162,"y":21.48},{"c":"Pima","yr":"2012","r":"WW","k":"p","x":0.2168,"y":21.36},{"c":"Pima","yr":"2012","r":"WW","k":"p","x":0.2186,"y":21.81},{"c":"Pima","yr":"2012","r":"WW","k":"p","x":0.2195,"y":21.31},{"c":"Pima","yr":"2012","r":"WW","k":"p","x":0.2199,"y":20.93},{"c":"Pima","yr":"2012","r":"WW","k":"p","x":0.2202,"y":21.79},{"c":"Pima","yr":"2012","r":"WW","k":"p","x":0.2204,"y":22.22},{"c":"Pima","yr":"2012","r":"WW","k":"p","x":0.2221,"y":22.11},{"c":"Pima","yr":"2012","r":"WW","k":"p","x":0.2227,"y":21.4},{"c":"Pima","yr":"2012","r":"WW","k":"p","x":0.2248,"y":21.64},{"c":"Pima","yr":"2012","r":"WW","k":"p","x":0.225,"y":21.36},{"c":"Pima","yr":"2012","r":"WW","k":"p","x":0.2252,"y":20.88},{"c":"Pima","yr":"2012","r":"WW","k":"p","x":0.2255,"y":21.55},{"c":"Pima","yr":"2012","r":"WW","k":"p","x":0.226,"y":21.92},{"c":"Pima","yr":"2012","r":"WW","k":"p","x":0.2307,"y":21.12},{"c":"Pima","yr":"2012","r":"WW","k":"p","x":0.2321,"y":21.69},{"c":"Pima","yr":"2012","r":"WW","k":"p","x":0.2329,"y":21.5},{"c":"Pima","yr":"2012","r":"WW","k":"p","x":0.2349,"y":21.48},{"c":"Pima","yr":"2012","r":"WW","k":"p","x":0.235,"y":19.88},{"c":"Pima","yr":"2012","r":"WW","k":"p","x":0.2365,"y":21.24},
{"c":"Pima","yr":"2012","r":"WL","k":"p","x":0.2036,"y":20.6},{"c":"Pima","yr":"2012","r":"WL","k":"p","x":0.2122,"y":20.67},{"c":"Pima","yr":"2012","r":"WL","k":"p","x":0.2139,"y":20.65},{"c":"Pima","yr":"2012","r":"WL","k":"p","x":0.2144,"y":20.69},{"c":"Pima","yr":"2012","r":"WL","k":"p","x":0.2156,"y":20.73},{"c":"Pima","yr":"2012","r":"WL","k":"p","x":0.2162,"y":19.7},{"c":"Pima","yr":"2012","r":"WL","k":"p","x":0.2168,"y":20.0},{"c":"Pima","yr":"2012","r":"WL","k":"p","x":0.2186,"y":20.69},{"c":"Pima","yr":"2012","r":"WL","k":"p","x":0.2199,"y":19.95},{"c":"Pima","yr":"2012","r":"WL","k":"p","x":0.2202,"y":20.29},{"c":"Pima","yr":"2012","r":"WL","k":"p","x":0.2204,"y":20.92},{"c":"Pima","yr":"2012","r":"WL","k":"p","x":0.2221,"y":20.54},{"c":"Pima","yr":"2012","r":"WL","k":"p","x":0.2227,"y":20.48},{"c":"Pima","yr":"2012","r":"WL","k":"p","x":0.2248,"y":20.5},{"c":"Pima","yr":"2012","r":"WL","k":"p","x":0.225,"y":20.36},{"c":"Pima","yr":"2012","r":"WL","k":"p","x":0.2252,"y":20.48},{"c":"Pima","yr":"2012","r":"WL","k":"p","x":0.2255,"y":19.93},{"c":"Pima","yr":"2012","r":"WL","k":"p","x":0.226,"y":20.69},{"c":"Pima","yr":"2012","r":"WL","k":"p","x":0.2306,"y":19.9},{"c":"Pima","yr":"2012","r":"WL","k":"p","x":0.232,"y":20.38},{"c":"Pima","yr":"2012","r":"WL","k":"p","x":0.2329,"y":20.19},{"c":"Pima","yr":"2012","r":"WL","k":"p","x":0.2349,"y":20.24},{"c":"Pima","yr":"2012","r":"WL","k":"p","x":0.235,"y":18.55},{"c":"Pima","yr":"2012","r":"WL","k":"p","x":0.2365,"y":20.42},
{"c":"Pima","yr":"2010","r":"WW","k":"f","x":0.2037,"y":21.62},{"c":"Pima","yr":"2010","r":"WW","k":"f","x":0.2366,"y":20.83},{"c":"Pima","yr":"2010","r":"WL","k":"f","x":0.2037,"y":20.95},{"c":"Pima","yr":"2010","r":"WL","k":"f","x":0.2366,"y":20.33},
{"c":"Pima","yr":"2011","r":"WW","k":"f","x":0.2037,"y":21.43},{"c":"Pima","yr":"2011","r":"WW","k":"f","x":0.2366,"y":20.1},{"c":"Pima","yr":"2011","r":"WL","k":"f","x":0.2037,"y":20.4},{"c":"Pima","yr":"2011","r":"WL","k":"f","x":0.2366,"y":20.1},
{"c":"Pima","yr":"2012","r":"WW","k":"f","x":0.2037,"y":21.97},{"c":"Pima","yr":"2012","r":"WW","k":"f","x":0.2365,"y":21.14},{"c":"Pima","yr":"2012","r":"WL","k":"f","x":0.2037,"y":20.86},{"c":"Pima","yr":"2012","r":"WL","k":"f","x":0.2365,"y":19.98},
{"c":"Pima","yr":"2010","r":"WW","k":"n","t":"WW: r=-0.51, P=0.01"},{"c":"Pima","yr":"2010","r":"WL","k":"n","t":"WL: r=-0.39, P=0.06"},
{"c":"Pima","yr":"2011","r":"WW","k":"n","t":"WW: r=-0.56, P=0.01"},{"c":"Pima","yr":"2011","r":"WL","k":"n","t":"WL: r=-0.16, NS"},
{"c":"Pima","yr":"2012","r":"WW","k":"n","t":"WW: r=-0.42, P=0.04"},{"c":"Pima","yr":"2012","r":"WL","k":"n","t":"WL: r=-0.41, P=0.04"}
]
},
"spacing": 11,
"resolve": {"scale": {"color": "independent", "strokeDash": "independent", "fill": "independent", "shape": "independent"}, "legend": {"color": "independent", "strokeDash": "independent", "fill": "independent", "shape": "independent"}},
"vconcat": [
{
"data": {"name": "up"},
"facet": {
 "column": {"field": "yr", "type": "ordinal", "header": {"title": null, "labelFontSize": 12.5, "labelPadding": 5}},
 "row": {"field": "c", "type": "nominal", "header": {"title": null, "labelAngle": 0, "labelOrient": "right", "labelAlign": "right", "labelAnchor": "start", "labelBaseline": "line-top", "labelLineHeight": 18, "labelFontSize": 12.5, "labelPadding": 6}}
},
"spacing": {"column": 6},
"spec": {
 "width": 270, "height": 190,
 "layer": [
  {"transform": [{"filter": "datum.k==='p' && datum.r==='WL'"}],
   "mark": {"type": "point", "filled": true, "size": 34, "opacity": 1},
   "encoding": {
    "x": {"field": "x", "type": "quantitative", "scale": {"domain": [0.2168, 0.3032], "nice": false, "zero": false}, "axis": {"values": [0.22, 0.24, 0.26, 0.28, 0.30], "format": ".2f", "title": null, "labelOverlap": false}},
    "y": {"field": "y", "type": "quantitative", "scale": {"domain": [17.84, 22.16], "nice": false, "zero": false}, "axis": {"values": [18, 19, 20, 21, 22], "tickCount": 5, "title": null, "labelOverlap": false}},
    "fill": {"field": "r", "type": "nominal", "scale": {"domain": ["WW", "WL", "z"], "range": ["#000000", "#808080", "#000000"]},
      "legend": {"title": null, "orient": "none", "legendX": 888, "legendY": 155.5, "symbolSize": 16, "labelExpr": "''", "labelFontSize": 10, "values": ["WW", "WL"], "rowPadding": -1.5}},
    "shape": {"field": "r", "type": "nominal", "scale": {"domain": ["WW", "WL", "z"], "range": ["circle", "diamond", "circle"]},
      "legend": {"title": null, "orient": "none", "legendX": 888, "legendY": 155.5, "symbolSize": 16, "labelExpr": "''", "labelFontSize": 10, "values": ["WW", "WL"], "rowPadding": -1.5}}
   }},
  {"transform": [{"filter": "datum.k==='p' && datum.r==='WW'"}],
   "mark": {"type": "point", "filled": true, "size": 30, "opacity": 1},
   "encoding": {
    "x": {"field": "x", "type": "quantitative"},
    "y": {"field": "y", "type": "quantitative"},
    "fill": {"field": "r", "type": "nominal"},
    "shape": {"field": "r", "type": "nominal"}
   }},
  {"transform": [{"filter": "datum.k==='f'"}],
   "mark": {"type": "line", "strokeWidth": 1.6},
   "encoding": {
    "x": {"field": "x", "type": "quantitative"},
    "y": {"field": "y", "type": "quantitative"},
    "color": {"field": "r", "type": "nominal", "scale": {"domain": ["WW", "WL"], "range": ["#000000", "#808080"]},
     "legend": {"title": "Water regime:", "orient": "none", "legendX": 834, "legendY": 135, "symbolType": "M-2.1,0L2.1,0", "symbolSize": 81, "symbolStrokeWidth": 1.3, "symbolOffset": 24, "labelOffset": -33, "labelAlign": "left", "labelFontSize": 10, "titleFontSize": 12, "titleFontWeight": "normal", "titlePadding": 8.5, "rowPadding": -1.5}},
    "strokeDash": {"field": "r", "type": "nominal", "scale": {"domain": ["WW", "WL"], "range": [[1, 0], [4, 2]]},
     "legend": {"title": "Water regime:", "orient": "none", "legendX": 834, "legendY": 135, "symbolType": "M-2.1,0L2.1,0", "symbolSize": 81, "symbolStrokeWidth": 1.3, "symbolOffset": 24, "labelOffset": -33, "labelAlign": "left", "labelFontSize": 10, "titleFontSize": 12, "titleFontWeight": "normal", "titlePadding": 8.5, "rowPadding": -1.5}}
   }},
  {"transform": [{"filter": "datum.k==='n' && datum.r==='WW'"}],
   "mark": {"type": "text", "align": "right", "baseline": "middle", "fontSize": 10.5, "color": "#000000"},
   "encoding": {"x": {"datum": 0.2995, "type": "quantitative"}, "y": {"datum": 18.38, "type": "quantitative"}, "text": {"field": "t"}}},
  {"transform": [{"filter": "datum.k==='n' && datum.r==='WL'"}],
   "mark": {"type": "text", "align": "right", "baseline": "middle", "fontSize": 10.5, "color": "#000000"},
   "encoding": {"x": {"datum": 0.2995, "type": "quantitative"}, "y": {"datum": 18.13, "type": "quantitative"}, "text": {"field": "t"}}}
 ]
}
},
{
"data": {"name": "pi"},
"title": {"text": "Reference thickness (mm)", "orient": "bottom", "anchor": "middle", "fontSize": 12, "fontWeight": "normal", "offset": 13},
"facet": {
 "column": {"field": "yr", "type": "ordinal", "header": null},
 "row": {"field": "c", "type": "nominal", "header": {"title": null, "labelAngle": 0, "labelOrient": "right", "labelAlign": "right", "labelAnchor": "start", "labelBaseline": "line-top", "labelLineHeight": 18, "labelFontSize": 12.5, "labelPadding": 6}}
},
"spacing": {"column": 6},
"spec": {
 "width": 270, "height": 190,
 "layer": [
  {"transform": [{"filter": "datum.k==='p' && datum.r==='WL'"}],
   "mark": {"type": "point", "filled": true, "size": 34, "opacity": 1},
   "encoding": {
    "x": {"field": "x", "type": "quantitative", "scale": {"domain": [0.1984, 0.2416], "nice": false, "zero": false}, "axis": {"values": [0.20, 0.21, 0.22, 0.23, 0.24], "format": ".2f", "title": null, "labelOverlap": false}},
    "y": {"field": "y", "type": "quantitative", "scale": {"domain": [17.8, 23.2], "nice": false, "zero": false}, "axis": {"values": [18, 19, 20, 21, 22, 23], "tickCount": 6, "title": null, "labelOverlap": false}},
    "fill": {"field": "r", "type": "nominal", "scale": {"domain": ["WW", "WL", "z"], "range": ["#000000", "#808080", "#000000"]}, "legend": null},
    "shape": {"field": "r", "type": "nominal", "scale": {"domain": ["WW", "WL", "z"], "range": ["circle", "diamond", "circle"]}, "legend": null}
   }},
  {"transform": [{"filter": "datum.k==='p' && datum.r==='WW'"}],
   "mark": {"type": "point", "filled": true, "size": 30, "opacity": 1},
   "encoding": {
    "x": {"field": "x", "type": "quantitative"},
    "y": {"field": "y", "type": "quantitative"},
    "fill": {"field": "r", "type": "nominal", "legend": null},
    "shape": {"field": "r", "type": "nominal", "legend": null}
   }},
  {"transform": [{"filter": "datum.k==='f'"}],
   "mark": {"type": "line", "strokeWidth": 1.6},
   "encoding": {
    "x": {"field": "x", "type": "quantitative"},
    "y": {"field": "y", "type": "quantitative"},
    "color": {"field": "r", "type": "nominal", "scale": {"domain": ["WW", "WL"], "range": ["#000000", "#808080"]}, "legend": null},
    "strokeDash": {"field": "r", "type": "nominal", "scale": {"domain": ["WW", "WL"], "range": [[1, 0], [4, 2]]}, "legend": null}
   }},
  {"transform": [{"filter": "datum.k==='n' && datum.r==='WW' && datum.yr==='2010'"}],
   "mark": {"type": "text", "align": "right", "baseline": "middle", "fontSize": 10.5, "color": "#000000"},
   "encoding": {"x": {"datum": 0.2400, "type": "quantitative"}, "y": {"datum": 18.5, "type": "quantitative"}, "text": {"field": "t"}}},
  {"transform": [{"filter": "datum.k==='n' && datum.r==='WL' && datum.yr==='2010'"}],
   "mark": {"type": "text", "align": "right", "baseline": "middle", "fontSize": 10.5, "color": "#000000"},
   "encoding": {"x": {"datum": 0.2400, "type": "quantitative"}, "y": {"datum": 18.19, "type": "quantitative"}, "text": {"field": "t"}}},
  {"transform": [{"filter": "datum.k==='n' && datum.r==='WW' && datum.yr!=='2010'"}],
   "mark": {"type": "text", "align": "left", "baseline": "middle", "fontSize": 10.5, "color": "#000000"},
   "encoding": {"x": {"datum": 0.2001, "type": "quantitative"}, "y": {"datum": 18.5, "type": "quantitative"}, "text": {"field": "t"}}},
  {"transform": [{"filter": "datum.k==='n' && datum.r==='WL' && datum.yr!=='2010'"}],
   "mark": {"type": "text", "align": "left", "baseline": "middle", "fontSize": 10.5, "color": "#000000"},
   "encoding": {"x": {"datum": 0.2001, "type": "quantitative"}, "y": {"datum": 18.19, "type": "quantitative"}, "text": {"field": "t"}}}
 ]
}
}
],
"config": {
 "font": "Liberation Sans",
 "view": {"stroke": "#000000", "strokeWidth": 1.5},
 "axis": {"grid": false, "domain": false, "tickColor": "#000000", "tickSize": 6, "labelFontSize": 11.5, "labelColor": "#000000", "labelPadding": 2, "titleFontSize": 12, "titleFontWeight": "normal", "titleColor": "#000000", "labelFlush": false, "labelOverlap": false, "titlePadding": 6},
 "header": {"labelFontSize": 12.5, "labelColor": "#000000"},
 "legend": {"titleColor": "#000000", "labelColor": "#000000"},
 "title": {"color": "#000000"}
}
}
